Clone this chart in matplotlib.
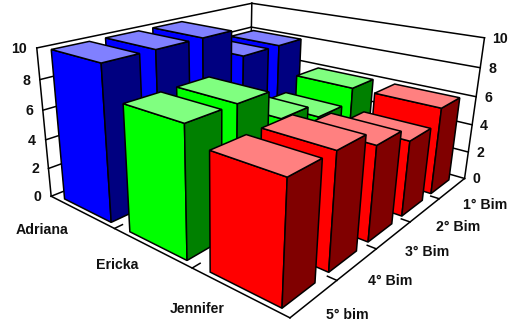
import numpy as np
import matplotlib
matplotlib.use("Agg")
import matplotlib.pyplot as plt
from matplotlib.patches import Polygon

plt.rcParams['font.family'] = ['Liberation Sans', 'DejaVu Sans']

alunas = ["Adriana", "Ericka", "Jennifer"]
bimestres = ["1° Bim", "2° Bim", "3° Bim", "4° Bim", "5° bim"]
niveis = [0, 2, 4, 6, 8, 10]

adriana = [8, 8, 10, 10, 10]
ericka = [6, 5, 6, 8, 8]
jennifer = [6, 5, 6, 7, 7]
notas = [adriana, ericka, jennifer]

# cores: frente, topo, lateral
cores = [("#0000ff", "#8080ff", "#000080"),
         ("#00ff00", "#80ff80", "#008000"),
         ("#ff0000", "#ff8080", "#800000")]

# matriz da perspectiva: (aluna, bimestre, nota) -> pixel
P = np.array([[3.93101679e+01, -4.23227472e+01, -1.29235680e+00, 2.49826036e+02],
              [8.19557578e+00, 5.97531171e+00, -1.13607474e+01, 1.16698243e+02],
              [-6.94600908e-02, -5.06202398e-02, -5.92160905e-03, 1.0]])

# folga das barras dentro de cada celula
folga_u0, folga_u1 = 0.153, 0.113
folga_v0, folga_v1 = 0.227, 0.085

# deslocamento horizontal dos nomes das alunas
desloc_alunas = [-39, -34, -41]


def proj(u, v, z):
    x, y, w = P @ np.array([u, v, z, 1.0])
    return x/w, y/w


def face(ax, pts, cor):
    ax.add_patch(Polygon([proj(*p) for p in pts], closed=True, facecolor=cor,
                         edgecolor="black", linewidth=1.1, joinstyle="miter", zorder=2))


def linha(ax, a, b):
    pa, pb = proj(*a), proj(*b)
    ax.plot([pa[0], pb[0]], [pa[1], pb[1]], color="black", linewidth=1.1, zorder=1)


fig = plt.figure(figsize=(5.08, 3.24), dpi=100)
ax = fig.add_axes([0, 0, 1, 1])
ax.set_xlim(0, 508)
ax.set_ylim(324, 0)
ax.axis("off")

# paredes e grade
for z in niveis:
    linha(ax, (0, 5, z), (0, 0, z))
    linha(ax, (0, 0, z), (3, 0, z))
linha(ax, (0, 5, 0), (0, 5, 10))
linha(ax, (3, 0, 0), (3, 0, 10))
linha(ax, (0, 0, 0), (0, 0, 10))
linha(ax, (0, 5, 0), (3, 5, 0))
linha(ax, (3, 5, 0), (3, 0, 0))

# marcas dos eixos no piso
for i in range(1, 3):
    linha(ax, (i, 5, 0), (i, 4.85, 0))
for j in range(1, 5):
    linha(ax, (3, j, 0), (2.91, j, 0))

# barras, de tras para frente
for i, serie in enumerate(notas):
    for j, valor in enumerate(serie):
        u0, u1 = i+folga_u0, i+1-folga_u1
        v0, v1 = j+folga_v0, j+1-folga_v1
        frente, topo, lado = cores[i]
        face(ax, [(u0, v1, 0), (u1, v1, 0), (u1, v1, valor), (u0, v1, valor)], frente)
        face(ax, [(u1, v1, 0), (u1, v0, 0), (u1, v0, valor), (u1, v1, valor)], lado)
        face(ax, [(u0, v1, valor), (u1, v1, valor), (u1, v0, valor), (u0, v0, valor)], topo)

fonte = dict(fontsize=10.2, fontweight="bold", color="#111111", va="center", zorder=5)
for z in niveis:
    x, y = proj(0, 5, z)
    ax.text(x-9.5, y+1, str(z), ha="right", **fonte)
    x, y = proj(3, 0, z)
    ax.text(x+8, y+1, str(z), ha="left", **fonte)
for i, nome in enumerate(alunas):
    x, y = proj(i+0.5, 5, 0)
    ax.text(x+desloc_alunas[i], y+18, nome, ha="center", **fonte)
for j, nome in enumerate(bimestres):
    x, y = proj(3, j+0.5, 0)
    ax.text(x+33, y+17, nome, ha="center", **fonte)

fig.savefig("out.png", dpi=100)
